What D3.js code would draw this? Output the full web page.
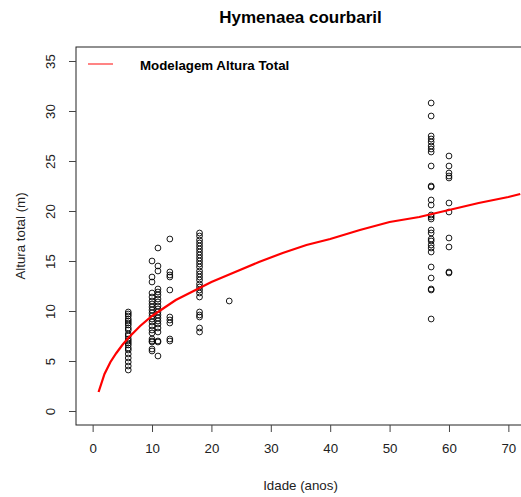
<!DOCTYPE html>
<html><head><meta charset="utf-8">
<script src="https://cdn.jsdelivr.net/npm/d3@7"></script>
<style>
html,body{margin:0;padding:0;background:#fff;overflow:hidden;}
svg{display:block;font-family:"Liberation Sans",Arial,sans-serif;}
</style></head>
<body>
<script>
// Observed data: ages and heights
const ages6  = [9.9,9.7,9.5,9.2,9.0,8.8,8.6,8.3,8.1,7.7,7.5,7.2,7.0,6.8,6.6,6.3,6.1,5.7,5.3,4.9,4.5,4.1];
const ages10 = [15.0,13.4,12.9,11.8,11.4,11.0,10.7,10.4,10.1,9.8,9.5,9.2,8.9,8.5,8.1,7.8,7.2,7.0,6.9,6.2,6.0];
const ages11 = [16.3,14.5,14.0,12.2,11.9,11.6,11.2,10.9,10.5,10.2,9.9,9.6,9.3,9.0,8.7,8.3,7.9,7.0,6.9,5.5];
const ages13 = [17.2,13.9,13.6,13.4,12.1,9.4,9.1,8.8,7.2,7.0];
const ages18 = [17.8,17.5,17.1,16.8,16.5,16.2,15.9,15.6,15.3,15.0,14.7,14.4,14.0,13.7,13.4,13.1,12.7,12.4,12.1,11.8,11.4,9.9,9.6,9.4,8.3,7.9];
const ages23 = [11.0];
const ages57 = [30.8,29.5,27.5,27.2,26.9,26.5,26.2,25.9,24.5,22.5,22.4,21.1,20.6,19.6,19.4,19.2,18.1,17.8,17.2,17.0,16.6,16.3,15.9,14.4,13.3,12.2,12.1,9.2];
const ages60 = [25.5,24.5,23.8,23.5,23.3,20.8,19.9,17.3,16.4,13.9,13.8];
const groupAges = [6,10,11,13,18,23,57,60];
const groupHeights = [ages6,ages10,ages11,ages13,ages18,ages23,ages57,ages60];

// Fitted model curve
const curveAge    = [1,2,3,4,5,6,8,10,12,14,16,18,20,24,28,32,36,40,45,50,55,60,65,70,72];
const curveHeight = [1.9,3.7,4.9,5.8,6.6,7.3,8.5,9.5,10.3,11.1,11.7,12.3,12.9,13.9,14.9,15.8,16.6,17.2,18.1,18.9,19.4,20.1,20.8,21.4,21.7];

const xTicks = [0,10,20,30,40,50,60,70];
const yTicks = [0,5,10,15,20,25,30,35];

const W=521,H=497;
const L=76,R=525,T=47,B=425;
const FS=13.3;
const x=d3.scaleLinear().domain([-2.8,72.8]).range([L,R]);
const y=d3.scaleLinear().domain([-1.4,36.4]).range([B,T]);

const svg=d3.select("body").append("svg").attr("width",W).attr("height",H);

const pts=[];
groupAges.forEach((a,i)=>groupHeights[i].forEach(h=>pts.push([a,h])));

svg.append("g").selectAll("circle").data(pts).join("circle")
  .attr("cx",d=>x(d[0])).attr("cy",d=>y(d[1])).attr("r",2.9)
  .attr("fill","none").attr("stroke","#000").attr("stroke-width",0.9);

const line=d3.line().x((d,i)=>x(curveAge[i])).y(d=>y(d));
svg.append("path").datum(curveHeight).attr("d",line)
  .attr("fill","none").attr("stroke","#ff0000").attr("stroke-width",2.2);

// box
svg.append("rect").attr("x",L).attr("y",T).attr("width",R-L).attr("height",B-T)
  .attr("fill","none").attr("stroke","#222").attr("stroke-width",1);

// x axis
const xa=svg.append("g").attr("transform",`translate(0,${B})`)
  .call(d3.axisBottom(x).tickValues(xTicks).tickSize(7).tickPadding(12).tickSizeOuter(0));
xa.select(".domain").remove();
xa.selectAll("line").attr("stroke","#444");
xa.selectAll("text").attr("font-size",FS).attr("fill","#222").attr("font-family","Liberation Sans, Arial, sans-serif");

// y axis
const ya=svg.append("g").attr("transform",`translate(${L},0)`)
  .call(d3.axisLeft(y).tickValues(yTicks).tickSize(7).tickSizeOuter(0));
ya.select(".domain").remove();
ya.selectAll("line").attr("stroke","#444");
ya.selectAll("text").remove();
ya.selectAll(".tick").append("text")
  .attr("transform","translate(-26,0) rotate(-90)")
  .attr("text-anchor","middle").attr("dy","0.35em")
  .attr("font-size",FS).attr("fill","#222")
  .attr("font-family","Liberation Sans, Arial, sans-serif")
  .text(d=>d);

// titles
svg.append("text").attr("x",(L+R)/2).attr("y",23).attr("text-anchor","middle")
  .attr("font-size",17).attr("font-weight","bold").attr("fill","#000").text("Hymenaea courbaril");
svg.append("text").attr("x",(L+R)/2).attr("y",490).attr("text-anchor","middle")
  .attr("font-size",FS).attr("fill","#222").text("Idade (anos)");
svg.append("text").attr("transform",`translate(25,${(T+B)/2}) rotate(-90)`).attr("text-anchor","middle")
  .attr("font-size",FS).attr("fill","#222").text("Altura total (m)");

// legend
svg.append("line").attr("x1",88).attr("x2",113).attr("y1",64).attr("y2",64)
  .attr("stroke","#ff2020").attr("stroke-width",1.1);
svg.append("text").attr("x",140).attr("y",69.5).attr("font-size",FS).attr("font-weight","bold")
  .attr("fill","#000").text("Modelagem Altura Total");
</script>
</body></html>
